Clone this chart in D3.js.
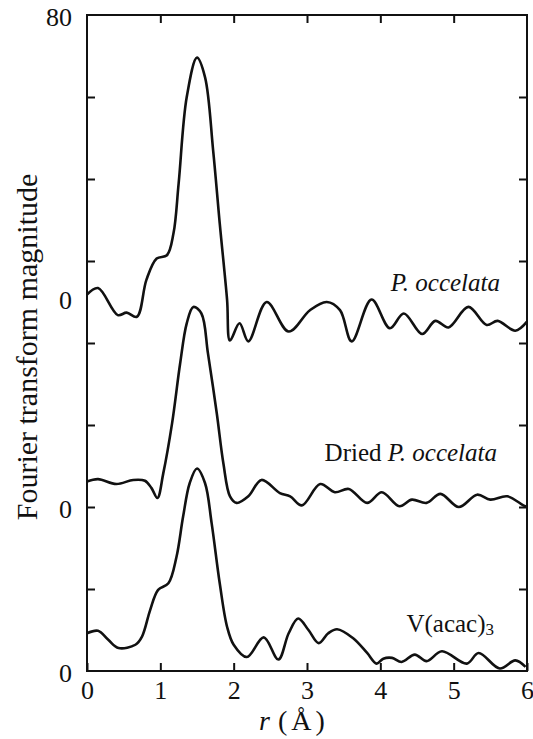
<!DOCTYPE html>
<html>
<head>
<meta charset="utf-8">
<script src="https://cdn.jsdelivr.net/npm/d3@7"></script>
<style>
  body { margin: 0; background: #fff; }
</style>
</head>
<body>
<div id="chart"></div>
<script>
// Data (r in Å, magnitude relative to each curve's own zero)
const occelataR = [0, 0.15, 0.42, 0.54, 0.68, 0.81, 0.95, 1.09, 1.18, 1.25, 1.36, 1.5, 1.61, 1.72, 1.81, 1.91, 1.95, 2.08, 2.2, 2.45, 2.75, 3.04, 3.27, 3.45, 3.61, 3.88, 4.13, 4.32, 4.57, 4.75, 4.93, 5.2, 5.45, 5.6, 5.84, 6.0];
const occelataV = [0.4, 1.2, -2.1, -1.8, -2.3, 2.2, 4.8, 5.2, 7.9, 14.0, 24.5, 29.3, 26.9, 18.0, 9.1, -0.2, -5.2, -3.1, -5.3, -0.5, -4.1, -1.5, -0.5, -1.5, -5.3, -0.2, -3.7, -1.9, -4.4, -2.8, -3.6, -1.1, -3.3, -2.8, -4.0, -2.9];

const driedR = [0, 0.15, 0.4, 0.63, 0.79, 0.88, 0.96, 1.04, 1.16, 1.27, 1.36, 1.45, 1.56, 1.65, 1.77, 1.86, 1.95, 2.04, 2.2, 2.38, 2.63, 2.77, 2.93, 3.18, 3.38, 3.57, 3.82, 4.02, 4.26, 4.43, 4.63, 4.82, 5.07, 5.32, 5.5, 5.73, 5.95, 6.0];
const driedV = [3.1, 3.4, 2.8, 3.3, 3.2, 2.3, 1.1, 4.1, 10.2, 17.5, 22.4, 24.4, 23.6, 18.7, 11.4, 5.3, 1.3, 0.5, 1.3, 3.3, 1.7, 1.3, 0.2, 2.8, 1.8, 2.2, 0.5, 1.8, 0.1, 0.9, 0.5, 1.6, 0.0, 1.5, 0.9, 1.3, 0.2, 0.0];

const vacacR = [0, 0.15, 0.29, 0.43, 0.66, 0.75, 0.86, 0.97, 1.11, 1.22, 1.31, 1.4, 1.5, 1.61, 1.7, 1.81, 1.91, 2.0, 2.18, 2.41, 2.61, 2.75, 2.88, 3.02, 3.16, 3.29, 3.41, 3.63, 3.82, 3.95, 4.04, 4.16, 4.29, 4.47, 4.63, 4.84, 5.18, 5.34, 5.63, 5.84, 5.98];
const vacacV = [4.6, 4.9, 3.8, 2.8, 3.2, 4.2, 7.4, 9.9, 10.7, 13.9, 18.8, 22.9, 24.7, 22.9, 18.0, 10.7, 5.4, 3.2, 1.7, 4.1, 1.4, 4.6, 6.4, 5.0, 3.4, 4.6, 5.1, 4.0, 2.2, 0.9, 1.5, 1.6, 1.1, 2.0, 1.2, 2.4, 0.9, 2.2, 0.3, 1.3, 0.5];

const seriesNames = ["P. occelata", "Dried P. occelata", "V(acac)3"];
const seriesOffsets = [45.5, 20, 0];
const xTicks = [0, 1, 2, 3, 4, 5, 6];
const yTicks = [0, 10, 20, 30, 40, 50, 60, 70, 80];
const yLabels = [
    { value: 80, text: "80" },
    { value: 45.5, text: "0" },
    { value: 20, text: "0" },
    { value: 0, text: "0" }
];

const width = 533;
const height = 739;
const margin = { top: 15, right: 6, bottom: 68, left: 87 };
const serif = "'Liberation Serif', 'Times New Roman', Times, 'DejaVu Serif', serif";

const svg = d3.select("#chart")
    .append("svg")
    .attr("width", width)
    .attr("height", height)
    .style("font-family", serif);

const x = d3.scaleLinear()
    .domain([0, 6])
    .range([margin.left, width - margin.right]);

const y = d3.scaleLinear()
    .domain([0, 80])
    .range([height - margin.bottom, margin.top]);

// Axes with inward ticks on all four sides
const bottomAxis = svg.append("g")
    .attr("transform", `translate(0,${y(0)})`)
    .call(d3.axisBottom(x).tickValues(xTicks).tickFormat(d3.format("d"))
        .tickSizeInner(-8).tickSizeOuter(0).tickPadding(10));

svg.append("g")
    .attr("transform", `translate(0,${y(80)})`)
    .call(d3.axisTop(x).tickValues(xTicks.slice(1, -1)).tickFormat("")
        .tickSizeInner(-8).tickSizeOuter(0));

svg.append("g")
    .attr("transform", `translate(${x(0)},0)`)
    .call(d3.axisLeft(y).tickValues(yTicks.slice(1, -1)).tickFormat("")
        .tickSizeInner(-8).tickSizeOuter(0));

svg.append("g")
    .attr("transform", `translate(${x(6)},0)`)
    .call(d3.axisRight(y).tickValues(yTicks.slice(1, -1)).tickFormat("")
        .tickSizeInner(-8).tickSizeOuter(0));

svg.selectAll(".domain").remove();
svg.selectAll(".tick line").attr("stroke", "#111").attr("stroke-width", 2);
svg.selectAll("g").attr("font-family", null);

bottomAxis.selectAll("text")
    .style("font-family", serif)
    .style("font-size", "26px")
    .attr("fill", "#111");

// frame
svg.append("rect")
    .attr("x", x(0))
    .attr("y", y(80))
    .attr("width", x(6) - x(0))
    .attr("height", y(0) - y(80))
    .attr("fill", "none")
    .attr("stroke", "#111")
    .attr("stroke-width", 2);

// y labels
svg.selectAll(".ylabel")
    .data(yLabels)
    .enter().append("text")
    .attr("class", "ylabel")
    .attr("x", x(0) - 15)
    .attr("y", d => y(d.value) + 2)
    .attr("dy", "0.35em")
    .attr("text-anchor", "end")
    .style("font-family", serif)
    .style("font-size", "26px")
    .attr("fill", "#111")
    .text(d => d.text);

// Curves
const curves = [
    { r: occelataR, v: occelataV },
    { r: driedR, v: driedV },
    { r: vacacR, v: vacacV }
];

const line = d3.line()
    .x(d => x(d[0]))
    .y(d => y(d[1]))
    .curve(d3.curveCatmullRom.alpha(0.5));

curves.forEach((c, i) => {
    const pts = c.r.map((r, j) => [r, c.v[j] + seriesOffsets[i]]);
    svg.append("path")
        .datum(pts)
        .attr("d", line)
        .attr("fill", "none")
        .attr("stroke", "#111")
        .attr("stroke-width", 2.6)
        .attr("stroke-linejoin", "round");
});

// Curve labels
svg.append("text")
    .attr("x", 500).attr("y", 291)
    .attr("text-anchor", "end")
    .style("font-family", serif)
    .style("font-size", "25px")
    .style("font-style", "italic")
    .attr("fill", "#111")
    .text(seriesNames[0]);

const dried = svg.append("text")
    .attr("x", 497).attr("y", 461)
    .attr("text-anchor", "end")
    .style("font-family", serif)
    .style("font-size", "25px")
    .attr("fill", "#111");
dried.append("tspan").text("Dried ");
dried.append("tspan").style("font-style", "italic").text("P. occelata");

const vac = svg.append("text")
    .attr("x", 494).attr("y", 632)
    .attr("text-anchor", "end")
    .style("font-family", serif)
    .style("font-size", "25px")
    .attr("fill", "#111");
vac.append("tspan").text("V(acac)");
vac.append("tspan").style("font-size", "17px").attr("dy", 3).text("3");

// Axis titles
svg.append("text")
    .attr("transform", `translate(37,${(167 + 527) / 2}) rotate(-90)`)
    .attr("text-anchor", "middle")
    .style("font-family", serif)
    .style("font-size", "30px")
    .attr("fill", "#111")
    .text("Fourier transform magnitude");

const xt = svg.append("text")
    .attr("x", 259).attr("y", 730)
    .style("font-family", serif)
    .style("font-size", "28px")
    .attr("fill", "#111");
xt.append("tspan").style("font-style", "italic").text("r");
xt.append("tspan").attr("dx", 8).style("letter-spacing", "4px").text("(Å)");
</script>
</body>
</html>
